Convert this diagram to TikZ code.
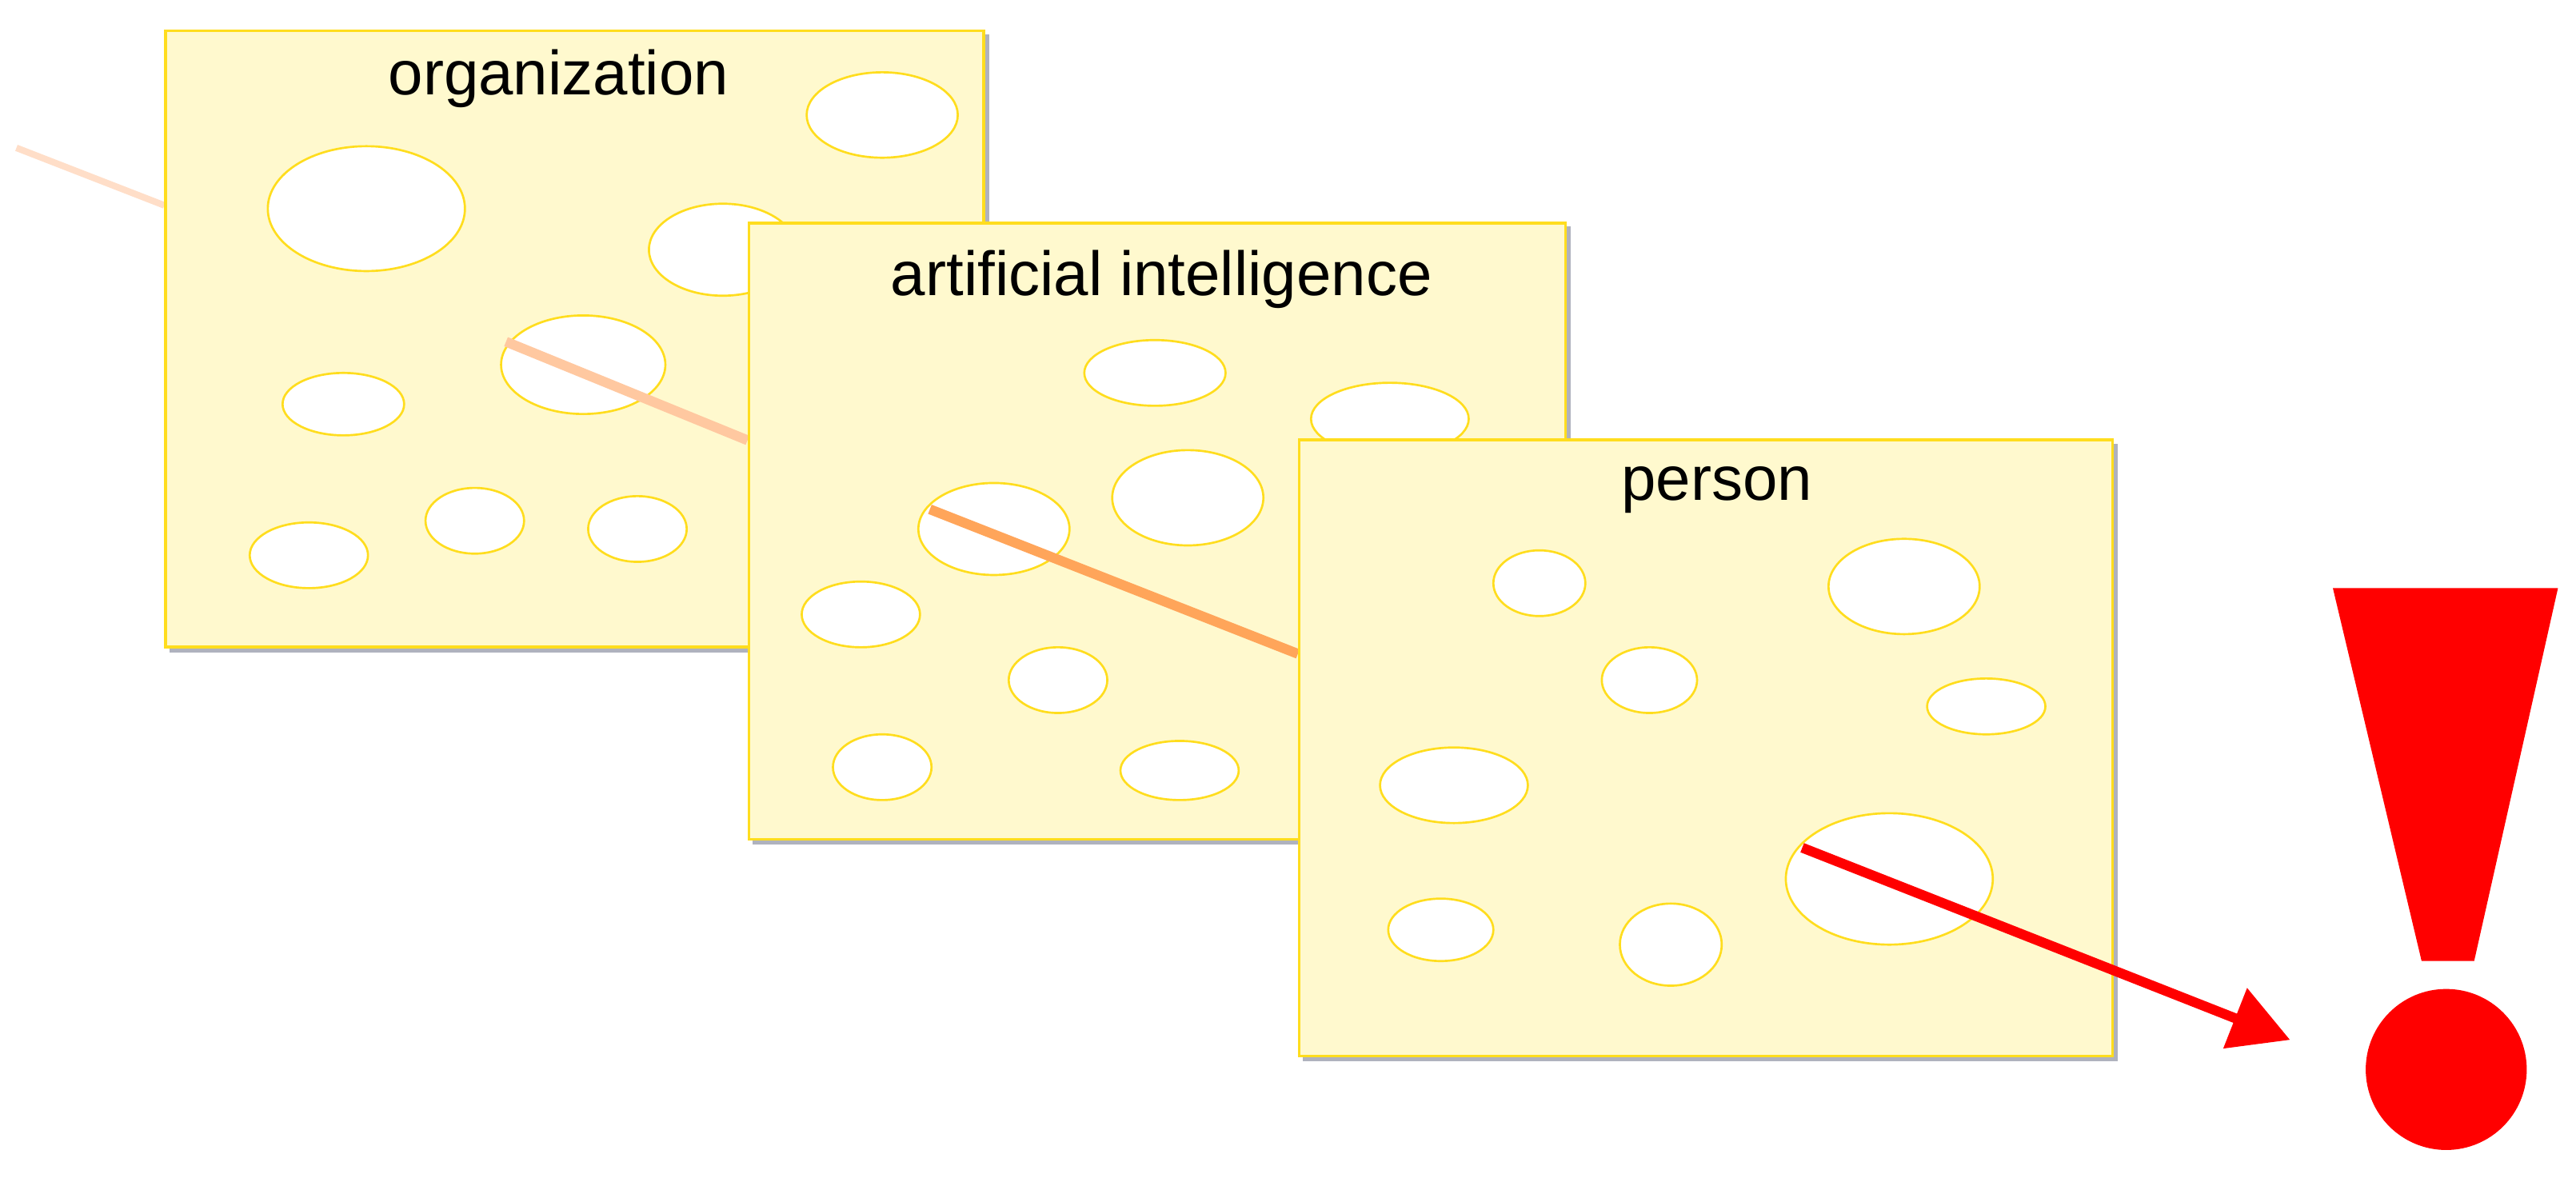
\documentclass[tikz,border=0pt]{standalone}
\usepackage{fontspec}
\setmainfont{Liberation Sans}
\usetikzlibrary{arrows.meta}
\definecolor{cheese}{RGB}{255,249,206}
\definecolor{cheeseline}{RGB}{255,221,30}
\tikzset{
  panel/.style={draw=cheeseline, line width=1.6pt, fill=cheese, minimum width=#1, anchor=north west},
  hole/.style={draw=cheeseline, line width=1.3pt, fill=white},
  ttl/.style={font=\fontsize{38}{40}\selectfont, anchor=center},
  shadow/.style={fill={rgb,255:red,175;green,178;blue,190}}
}
\begin{document}
\begin{tikzpicture}[x=1pt,y=-1pt]
\useasboundingbox (0,0) rectangle (1568,717);
% faint entry line
\coordinate (s0) at (10,90); \coordinate (s1) at (100,125);
\draw[line width=4pt, color={rgb,255:red,255;green,222;blue,200}] (s0) -- (s1);
% panel 1
\fill[shadow] (103,21) rectangle (602,397);
\node[panel=498pt, minimum height=375pt, inner sep=0pt] (p1) at (100,18) {};
\node[ttl] (t1) at (340,48) {organization};
\foreach \x/\y/\a/\b in {537/70/46/26, 223/127/60/38, 440/152/45/28, 355/222/50/30, 209/246/37/19, 188/338/36/20, 289/317/30/20, 388/322/30/20}
  \draw[hole] (\x,\y) ellipse [x radius=\a, y radius=\b];
\coordinate (a0) at (308,208); \coordinate (a1) at (455,268);
\draw[line width=6pt, color={rgb,255:red,255;green,200;blue,160}] (a0) -- (a1);
% panel 2
\fill[shadow] (458,138) rectangle (956,514);
\node[panel=497pt, minimum height=375pt, inner sep=0pt] (p2) at (455,135) {};
\node[ttl] (t2) at (707,170) {artificial intelligence};
\foreach \x/\y/\a/\b in {703/227/43/20, 846/255/48/22, 723/303/46/29, 605/322/46/28, 524/374/36/20, 644/414/30/20, 537/467/30/20, 718/469/36/18}
  \draw[hole] (\x,\y) ellipse [x radius=\a, y radius=\b];
\coordinate (b0) at (566,310); \coordinate (b1) at (790,398);
\draw[line width=6pt, color={rgb,255:red,255;green,165;blue,90}] (b0) -- (b1);
% panel 3
\fill[shadow] (793,270) rectangle (1289,646);
\node[panel=495pt, minimum height=375pt, inner sep=0pt] (p3) at (790,267) {};
\node[ttl] (t3) at (1045,298) {person};
\foreach \x/\y/\a/\b in {937/355/28/20, 1159/357/46/29, 1004/414/29/20, 1209/430/36/17, 885/478/45/23, 1150/535/63/40, 877/566/32/19, 1017/575/31/25}
  \draw[hole] (\x,\y) ellipse [x radius=\a, y radius=\b];
% red arrow
\coordinate (c0) at (1097,516);
\node[inner sep=0pt] (bang) at (1489,651) {};
\coordinate (c1) at (1394,633);
\draw[red, line width=6pt, -{Triangle[length=36pt,width=38pt]}] (c0) -- (c1);
% exclamation mark
\fill[red] (1420,358) -- (1557,358) -- (1506,585) -- (1474,585) -- cycle;
\fill[red] (bang) circle[radius=49];
\end{tikzpicture}
\end{document}
